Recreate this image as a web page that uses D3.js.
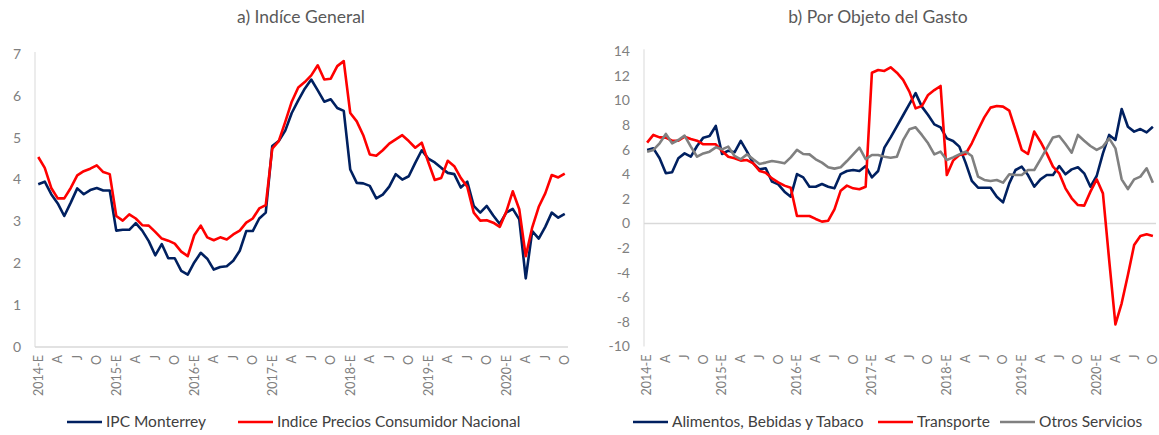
<!DOCTYPE html>
<html>
<head>
<meta charset="utf-8">
<script src="https://cdn.jsdelivr.net/npm/d3@7"></script>
<style>
  body { margin: 0; background: #fff; }
  text { font-family: Lato, "Open Sans", sans-serif; }
</style>
</head>
<body>
<svg id="chart" width="1159" height="435"></svg>
<script>
// meses ene-2014 .. oct-2020 (82 observaciones)
const years = [2014, 2015, 2016, 2017, 2018, 2019, 2020];
const quarterLetters = ["E", "A", "J", "O"];

// a) Indice General
const ipcMonterrey = [
  3.89, 3.95, 3.65, 3.43, 3.13, 3.45, 3.79, 3.65, 3.75, 3.80, 3.74, 3.74,
  2.78, 2.80, 2.80, 2.96, 2.78, 2.53, 2.19, 2.46, 2.12, 2.12, 1.82, 1.73,
  2.02, 2.25, 2.11, 1.85, 1.91, 1.93, 2.06, 2.30, 2.77, 2.77, 3.07, 3.21,
  4.80, 4.92, 5.17, 5.59, 5.89, 6.17, 6.39, 6.13, 5.86, 5.92, 5.71, 5.64,
  4.24, 3.92, 3.91, 3.85, 3.55, 3.64, 3.83, 4.13, 4.00, 4.08, 4.40, 4.70,
  4.50, 4.41, 4.28, 4.16, 4.13, 3.81, 3.95, 3.37, 3.21, 3.37, 3.14, 2.94,
  3.21, 3.30, 3.05, 1.64, 2.77, 2.59, 2.87, 3.21, 3.09, 3.18
];
const inpcNacional = [
  4.54, 4.28, 3.80, 3.55, 3.55, 3.80, 4.10, 4.20, 4.26, 4.34, 4.18, 4.13,
  3.13, 3.02, 3.17, 3.07, 2.91, 2.90, 2.75, 2.59, 2.54, 2.47, 2.28, 2.17,
  2.67, 2.90, 2.62, 2.55, 2.62, 2.57, 2.69, 2.78, 2.97, 3.07, 3.31, 3.39,
  4.74, 4.92, 5.38, 5.86, 6.20, 6.33, 6.49, 6.73, 6.39, 6.41, 6.71, 6.83,
  5.59, 5.39, 5.06, 4.60, 4.57, 4.70, 4.86, 4.96, 5.06, 4.92, 4.76, 4.88,
  4.42, 3.99, 4.04, 4.45, 4.32, 4.04, 3.83, 3.21, 3.02, 3.03, 2.97, 2.87,
  3.23, 3.72, 3.29, 2.17, 2.86, 3.35, 3.67, 4.11, 4.05, 4.14
];

// b) Por Objeto del Gasto
const alimentos = [
  5.98, 6.11, 5.30, 4.08, 4.16, 5.30, 5.70, 5.43, 6.30, 6.98, 7.11, 7.93,
  5.65, 5.92, 5.79, 6.71, 5.84, 4.89, 4.40, 4.49, 3.40, 3.18, 2.59, 2.18,
  4.02, 3.75, 2.99, 2.99, 3.21, 2.99, 2.86, 4.02, 4.27, 4.35, 4.27, 4.67,
  3.75, 4.27, 6.17, 7.00, 7.90, 8.80, 9.70, 10.60, 9.50, 8.82, 8.06, 7.82,
  6.92, 6.71, 6.25, 4.95, 3.46, 2.91, 2.91, 2.91, 2.18, 1.72, 3.26, 4.35,
  4.62, 3.94, 2.99, 3.59, 3.94, 3.94, 4.67, 4.00, 4.40, 4.57, 4.08, 2.99,
  3.86, 5.70, 7.20, 6.79, 9.31, 7.87, 7.47, 7.68, 7.41, 7.87
];
const transporte = [
  6.57, 7.20, 7.00, 6.98, 6.73, 6.73, 7.06, 6.87, 6.73, 6.44, 6.44, 6.44,
  5.89, 5.43, 5.30, 5.11, 5.16, 4.89, 4.27, 4.13, 3.67, 3.35, 3.08, 2.91,
  0.61, 0.61, 0.61, 0.37, 0.15, 0.23, 1.15, 2.67, 3.08, 2.86, 2.78, 2.99,
  12.26, 12.48, 12.40, 12.70, 12.26, 11.67, 10.72, 9.36, 9.55, 10.45, 10.85, 11.18,
  3.94, 5.11, 5.57, 5.65, 6.52, 7.60, 8.63, 9.42, 9.55, 9.50, 9.17, 7.60,
  5.98, 5.65, 7.47, 6.65, 5.70, 4.62, 4.08, 2.86, 2.05, 1.50, 1.45, 2.59,
  3.59, 2.45, -2.97, -8.20, -6.49, -4.19, -1.75, -1.02, -0.88, -1.02
];
const otrosServicios = [
  5.84, 5.98, 6.52, 7.28, 6.52, 6.79, 7.14, 6.25, 5.43, 5.70, 5.84, 6.19,
  6.03, 6.25, 5.49, 5.22, 5.62, 5.22, 4.84, 4.95, 5.08, 5.00, 4.89, 5.38,
  5.98, 5.65, 5.62, 5.22, 4.95, 4.57, 4.46, 4.57, 5.08, 5.62, 6.17, 5.24,
  5.57, 5.57, 5.43, 5.35, 5.43, 6.78, 7.66, 7.82, 7.20, 6.52, 5.62, 5.84,
  5.16, 5.38, 5.62, 5.84, 5.49, 3.81, 3.54, 3.46, 3.54, 3.32, 4.00, 3.94,
  3.94, 4.35, 4.35, 5.22, 6.11, 7.00, 7.11, 6.46, 5.76, 7.20, 6.73, 6.30,
  5.98, 6.25, 6.92, 6.11, 3.59, 2.80, 3.59, 3.81, 4.49, 3.32
];

const yTicksA = [0, 1, 2, 3, 4, 5, 6, 7];
const yTicksB = [-10, -8, -6, -4, -2, 0, 2, 4, 6, 8, 10, 12, 14];

const nMonths = ipcMonterrey.length;
const months = d3.range(nMonths);
function monthLabel(i) {
  if (i % 3 !== 0) return "";
  const q = (i % 12) / 3;
  return q === 0 ? years[Math.floor(i / 12)] + "-E" : quarterLetters[q];
}

const svg = d3.select("#chart");
const axisColor = "#d9d9d9";
const labelColor = "#808080";

function panel(cfg) {
  const x = d3.scaleBand().domain(months).range([cfg.left, cfg.right]);
  const y = d3.scaleLinear().domain(cfg.domain).range([cfg.bottom, cfg.top]);
  const g = svg.append("g");

  // titulo
  g.append("text")
    .attr("x", cfg.titleX).attr("y", 23)
    .attr("text-anchor", "middle")
    .attr("font-size", 17.5).attr("fill", "#595959")
    .text(cfg.title);

  // eje vertical
  g.append("line")
    .attr("x1", cfg.left).attr("x2", cfg.left)
    .attr("y1", cfg.top - 2).attr("y2", cfg.bottom)
    .attr("stroke", axisColor).attr("stroke-width", 1);
  // linea horizontal en cero
  g.append("line")
    .attr("x1", cfg.left).attr("x2", cfg.right)
    .attr("y1", y(0)).attr("y2", y(0))
    .attr("stroke", axisColor).attr("stroke-width", 1.3);

  g.selectAll("text.ytick").data(cfg.yTicks).enter()
    .append("text").attr("class", "ytick")
    .attr("x", cfg.left - 14).attr("y", d => y(d))
    .attr("dy", "0.35em").attr("text-anchor", "end")
    .attr("font-size", 14).attr("fill", labelColor)
    .text(d => d);

  // etiquetas de meses (verticales, bajo el area)
  g.selectAll("text.xtick").data(months.filter(i => i % 3 === 0)).enter()
    .append("text").attr("class", "xtick")
    .attr("transform", d => "translate(" + (x(d) + x.bandwidth() / 2) + "," + (cfg.bottom + 8) + ") rotate(-90)")
    .attr("dy", "0.35em").attr("text-anchor", "end")
    .attr("font-size", 12.5).attr("fill", labelColor)
    .text(d => monthLabel(d));

  const line = d3.line()
    .x((d, i) => x(i) + x.bandwidth() / 2)
    .y(d => y(d));

  cfg.series.forEach(s => {
    g.append("path")
      .datum(s.values)
      .attr("d", line)
      .attr("fill", "none")
      .attr("stroke", s.color)
      .attr("stroke-width", 2.6)
      .attr("stroke-linejoin", "round");
  });

  // leyenda
  cfg.series.forEach(s => {
    g.append("line")
      .attr("x1", s.lx).attr("x2", s.lx + 35)
      .attr("y1", 422).attr("y2", 422)
      .attr("stroke", s.color).attr("stroke-width", 2.6);
    g.append("text")
      .attr("x", s.lx + 39).attr("y", 422)
      .attr("dy", "0.35em")
      .attr("font-size", 15.5).attr("fill", "#404040")
      .text(s.name);
  });
}

panel({
  title: "a) Indíce General", titleX: 301,
  left: 35, right: 568, top: 54, bottom: 347,
  domain: [0, 7], yTicks: yTicksA,
  series: [
    { name: "IPC Monterrey", values: ipcMonterrey, color: "#002060", lx: 67 },
    { name: "Indice Precios Consumidor Nacional", values: inpcNacional, color: "#ff0000", lx: 238 }
  ]
});

panel({
  title: "b) Por Objeto del Gasto", titleX: 878,
  left: 644, right: 1156, top: 51.3, bottom: 346.5,
  domain: [-10, 14], yTicks: yTicksB,
  series: [
    { name: "Alimentos, Bebidas y Tabaco", values: alimentos, color: "#002060", lx: 633 },
    { name: "Transporte", values: transporte, color: "#ff0000", lx: 878 },
    { name: "Otros Servicios", values: otrosServicios, color: "#808080", lx: 1000 }
  ]
});
</script>
</body>
</html>
